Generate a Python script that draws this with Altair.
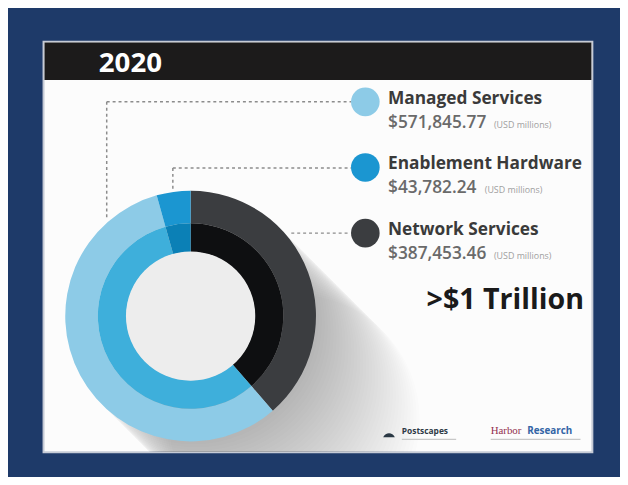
import altair as alt
import pandas as pd

# ---- data ----
year_label = "2020"
categories = ["Network Services", "Managed Services", "Enablement Hardware"]   # clockwise from 12 o'clock
values = [387453.46, 571845.77, 43782.24]
legend_order = ["Managed Services", "Enablement Hardware", "Network Services"]
unit_label = "(USD millions)"
total_label = ">$1 Trillion"
logo_left = "Postscapes"
logo_right_a = "Harbor"
logo_right_b = "Research"

# ---- styles ----
FONT = "Open Sans"
outer_colors = ["#3b3d40", "#8dcbe7", "#1b96d1"]
inner_colors = ["#0e0f11", "#3eafdb", "#0b80b6"]
NAVY = "#1e3a69"

W, H = 556, 416
CX, CY = 149, 278
R_OUT, R_MID, R_IN = 127, 94, 65

df = pd.DataFrame({"category": categories, "value": values, "ord": list(range(len(categories)))})
val_lookup = dict(zip(categories, values))
leg = pd.DataFrame({
    "category": legend_order,
    "value": [val_lookup[c] for c in legend_order],
    "idx": list(range(len(legend_order))),
})
one = pd.DataFrame({"a": [0]})

def color_scale(rng):
    return alt.Scale(domain=categories, range=rng)

def circ(r):
    # vega symbol size for a circle of radius r
    return (2 * r) ** 2

# header bar
header = alt.Chart(one).mark_rect(color="#1c1b1b").encode(
    x=alt.value(1), x2=alt.value(W - 1), y=alt.value(1), y2=alt.value(39))
year_text = alt.Chart(one).mark_text(
    text=year_label, font=FONT, fontSize=28, fontWeight="bold", color="white",
    align="left", baseline="alphabetic").encode(x=alt.value(56), y=alt.value(31))

# long shadow
shadow = alt.Chart(alt.sequence(0, 36, as_="k")).transform_calculate(
    sx=f"{CX} + datum.k * 3", sy=f"{CY} + datum.k * 3"
).mark_circle(size=circ(R_OUT), color="#6e4a60", opacity=0.012, clip=True).encode(
    x=alt.X("sx:Q", scale=None), y=alt.Y("sy:Q", scale=None))

def ring(r1, r2, rng):
    return alt.Chart(df).mark_arc(radius=r1, radius2=r2).encode(
        theta=alt.Theta("value:Q", stack=True),
        order=alt.Order("ord:Q"),
        color=alt.Color("category:N", scale=color_scale(rng), legend=None),
        x=alt.value(CX), y=alt.value(CY))

outer = ring(R_OUT, R_MID, outer_colors)
inner = ring(R_MID, R_IN, inner_colors)
hole = alt.Chart(one).mark_circle(size=circ(R_IN + 0.5), color="#ededed", opacity=1).encode(
    x=alt.value(CX), y=alt.value(CY))

# dashed connectors
dash = dict(strokeDash=[3, 3], color="#8c8c8c", strokeWidth=1.5)
segs = [
    dict(x=64, x2=312, y=61), dict(x=64, y=61, y2=180),
    dict(x=131, x2=312, y=128), dict(x=131, y=128, y2=149),
    dict(x=251, x2=309, y=194),
]
connectors = [
    alt.Chart(one).mark_rule(**dash).encode(**{k: alt.value(v) for k, v in s.items()})
    for s in segs
]

# legend dots and text
STEP = 66.5
base = alt.Chart(leg).transform_calculate(
    dy=f"61 + datum.idx * {STEP}",
    ty=f"63 + datum.idx * {STEP}",
    vy=f"87 + datum.idx * {STEP}",
    vlab="format(datum.value, '$,.2f')",
    ux="349 + length(format(datum.value, '$,.2f')) * 9.3 + 5",
)
dots = base.mark_circle(size=circ(14.5), opacity=1).encode(
    x=alt.value(326), y=alt.Y("dy:Q", scale=None),
    color=alt.Color("category:N", scale=color_scale(outer_colors), legend=None))
titles = base.mark_text(font=FONT, fontSize=17.5, fontWeight="bold", color="#3a3a3a",
                        align="left", baseline="alphabetic").encode(
    x=alt.value(349), y=alt.Y("ty:Q", scale=None), text="category:N")
vals = base.mark_text(font=FONT, fontSize=17.5, fontWeight=600, color="#6a6a6a",
                      align="left", baseline="alphabetic").encode(
    x=alt.value(349), y=alt.Y("vy:Q", scale=None), text="vlab:N")
units = base.mark_text(text=unit_label, font=FONT, fontSize=9, color="#a0a0a0",
                       align="left", baseline="alphabetic").encode(
    x=alt.X("ux:Q", scale=None), y=alt.Y("vy:Q", scale=None))

total = alt.Chart(one).mark_text(text=total_label, font=FONT, fontSize=29, fontWeight="bold",
                                 color="#1a1a1a", align="left", baseline="alphabetic").encode(
    x=alt.value(388), y=alt.value(271))

# logos
icon = alt.Chart(one).mark_point(shape="M-1,0.3 C-0.6,-0.6 0.6,-0.6 1,0.3 Z", filled=True,
                                 size=140, color="#2a3844", opacity=1).encode(
    x=alt.value(350), y=alt.value(399))
logo1 = alt.Chart(one).mark_text(text=logo_left, font=FONT, fontSize=8.5, fontWeight="bold",
                                 color="#2f3a46", align="left", baseline="alphabetic").encode(
    x=alt.value(363), y=alt.value(398))
logo1_sub = alt.Chart(one).mark_rule(color="#c8c8c8", strokeWidth=1.2).encode(
    x=alt.value(363), x2=alt.value(418), y=alt.value(403))
logo2a = alt.Chart(one).mark_text(text=logo_right_a, font="Liberation Serif", fontSize=11,
                                  color="#93304f", align="left", baseline="alphabetic").encode(
    x=alt.value(453), y=alt.value(398))
logo2b = alt.Chart(one).mark_text(text=logo_right_b, font=FONT, fontSize=10, fontWeight="bold",
                                  color="#3466a6", align="left", baseline="alphabetic").encode(
    x=alt.value(490), y=alt.value(398))
logo2_sub = alt.Chart(one).mark_rule(color="#c8c8c8", strokeWidth=1.2).encode(
    x=alt.value(453), x2=alt.value(544), y=alt.value(403))

chart = alt.layer(
    shadow, *connectors, outer, inner, hole, header, year_text,
    dots, titles, vals, units, total,
    icon, logo1, logo1_sub, logo2a, logo2b, logo2_sub,
).resolve_scale(color="independent", theta="shared").properties(
    width=W, height=H,
    background=NAVY,
    padding={"left": 36, "top": 31, "right": 28, "bottom": 22},
    autosize=alt.AutoSizeParams(type="none"),
).configure_view(fill="#fcfcfc", stroke="#c6cbd6", strokeWidth=2)

chart.save("out.html", embed_options={"renderer": "svg", "actions": False})
